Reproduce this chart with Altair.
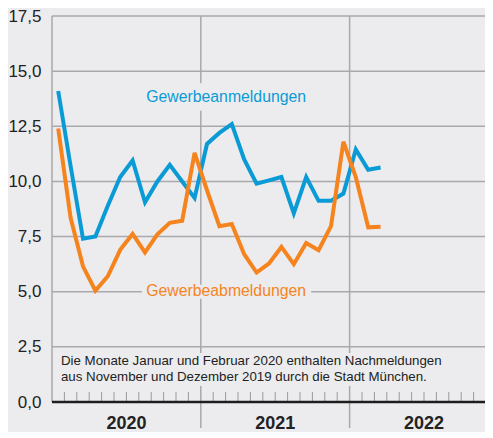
import altair as alt
import pandas as pd

months = list(range(27))  # Jan 2020 .. Mar 2022
anmeldungen = [14.1, 10.7, 7.4, 7.5, 8.9, 10.2, 10.95, 9.05, 10.0, 10.75, 10.0, 9.25,
               11.7, 12.2, 12.6, 11.0, 9.9, 10.05, 10.2, 8.55, 10.2, 9.12, 9.12, 9.45,
               11.45, 10.53, 10.63]
abmeldungen = [12.4, 8.35, 6.15, 5.05, 5.7, 6.9, 7.62, 6.78, 7.6, 8.12, 8.22, 11.3,
               9.6, 7.97, 8.07, 6.7, 5.87, 6.28, 7.03, 6.25, 7.21, 6.88, 7.97, 11.8,
               10.2, 7.92, 7.95]
years = ["2020", "2021", "2022"]
grid_values = [2.5, 5.0, 7.5, 10.0, 12.5, 15.0, 17.5]
y_ticks = [0.0, 2.5, 5.0, 7.5, 10.0, 12.5, 15.0, 17.5]
note_lines = ["Die Monate Januar und Februar 2020 enthalten Nachmeldungen",
              "aus November und Dezember 2019 durch die Stadt München."]

BG = "#ECECEE"
GRID = "#A9A9AB"
BLUE = "#0A9BD7"
ORANGE = "#F5841F"
W = 433
H = 386
XMAX = W / 12.4

xs = alt.Scale(domain=[0, XMAX], nice=False, zero=False)
ys = alt.Scale(domain=[0, 17.5], nice=False)

df = pd.DataFrame({
    "m": [m + 0.5 for m in months] * 2,
    "v": anmeldungen + abmeldungen,
    "s": ["Gewerbeanmeldungen"] * len(months) + ["Gewerbeabmeldungen"] * len(months),
})

grid = alt.Chart(pd.DataFrame({"y": grid_values})).mark_rule(
    color=GRID, strokeWidth=1.5).encode(
    y=alt.Y("y:Q", scale=ys, axis=alt.Axis(
        values=y_ticks, grid=False, domain=False, ticks=False,
        labelExpr="replace(format(datum.value, '.1f'), '.', ',')",
        labelFontSize=17, labelColor="#222222", labelFont="Liberation Sans",
        labelPadding=11, title=None)),
)

left_axis = alt.Chart(pd.DataFrame({"x": [0]})).mark_rule(
    color=GRID, strokeWidth=1.5).encode(
    x=alt.X("x:Q", scale=xs, axis=None), y=alt.value(0), y2=alt.value(H))

year_lines = alt.Chart(pd.DataFrame({"x": [12, 24]})).mark_rule(
    color=GRID, strokeWidth=1.5).encode(
    x=alt.X("x:Q", scale=xs, axis=None), y=alt.value(0), y2=alt.value(H + 26))

# background boxes behind annotation texts (break the grid lines like the original)
boxes = pd.DataFrame({
    "x": [7.55, 7.25, 0.3],
    "x2": [20.9, 20.9, 32.2],
    "y": [13.2, 4.68, 0.72],
    "y2": [14.45, 5.32, 2.22],
})
box_layer = alt.Chart(boxes).mark_rect(color=BG).encode(
    x=alt.X("x:Q", scale=xs, axis=None), x2="x2:Q",
    y=alt.Y("y:Q", scale=ys), y2="y2:Q")

ticks = alt.Chart(pd.DataFrame({"x": [m for m in range(1, 36) if m % 12 != 0]})).mark_rule(
    color="#9A9A9A", strokeWidth=1).encode(
    x=alt.X("x:Q", scale=xs, axis=None), y=alt.value(H - 10), y2=alt.value(H - 1))

baseline = alt.Chart(pd.DataFrame({"y": [0]})).mark_rule(
    color="#1E1E1E", strokeWidth=2.5).encode(
    y=alt.Y("y:Q", scale=ys), x=alt.value(0), x2=alt.value(W))

lines = alt.Chart(df).mark_line(strokeWidth=4, strokeJoin="miter").encode(
    x=alt.X("m:Q", scale=xs, axis=None),
    y=alt.Y("v:Q", scale=ys),
    color=alt.Color("s:N", scale=alt.Scale(
        domain=["Gewerbeanmeldungen", "Gewerbeabmeldungen"], range=[BLUE, ORANGE]),
        legend=None),
)

labels = alt.Chart(pd.DataFrame({
    "x": [7.6, 7.6], "y": [13.82, 5.02],
    "t": ["Gewerbeanmeldungen", "Gewerbeabmeldungen"],
})).mark_text(align="left", baseline="middle", fontSize=15.8, font="Liberation Sans").encode(
    x=alt.X("x:Q", scale=xs, axis=None), y=alt.Y("y:Q", scale=ys), text="t:N",
    color=alt.Color("t:N", scale=alt.Scale(
        domain=["Gewerbeanmeldungen", "Gewerbeabmeldungen"], range=[BLUE, ORANGE]),
        legend=None),
)

note = alt.Chart(pd.DataFrame({"x": [0.72, 0.72], "y": [1.85, 1.12], "t": note_lines})).mark_text(
    align="left", baseline="middle", fontSize=13.3, font="Liberation Sans", color="#222222").encode(
    x=alt.X("x:Q", scale=xs, axis=None), y=alt.Y("y:Q", scale=ys), text="t:N")

year_text = alt.Chart(pd.DataFrame({"x": [6, 18, 30], "t": years})).mark_text(
    baseline="middle", fontSize=18, fontWeight="bold", font="Liberation Sans",
    color="#222222").encode(
    x=alt.X("x:Q", scale=xs, axis=None), y=alt.value(H + 22), text="t:N")

chart = alt.layer(
    grid, left_axis, year_lines, box_layer, ticks, baseline, lines, labels, note, year_text
).resolve_scale(color="independent").properties(
    width=W, height=H,
    autosize=alt.AutoSizeParams(type="none"),
    padding={"left": 44, "top": 8, "right": 0, "bottom": 30},
    background=BG,
).configure_view(stroke=None)

chart.save("out.html", embed_options={"renderer": "svg", "actions": False})
